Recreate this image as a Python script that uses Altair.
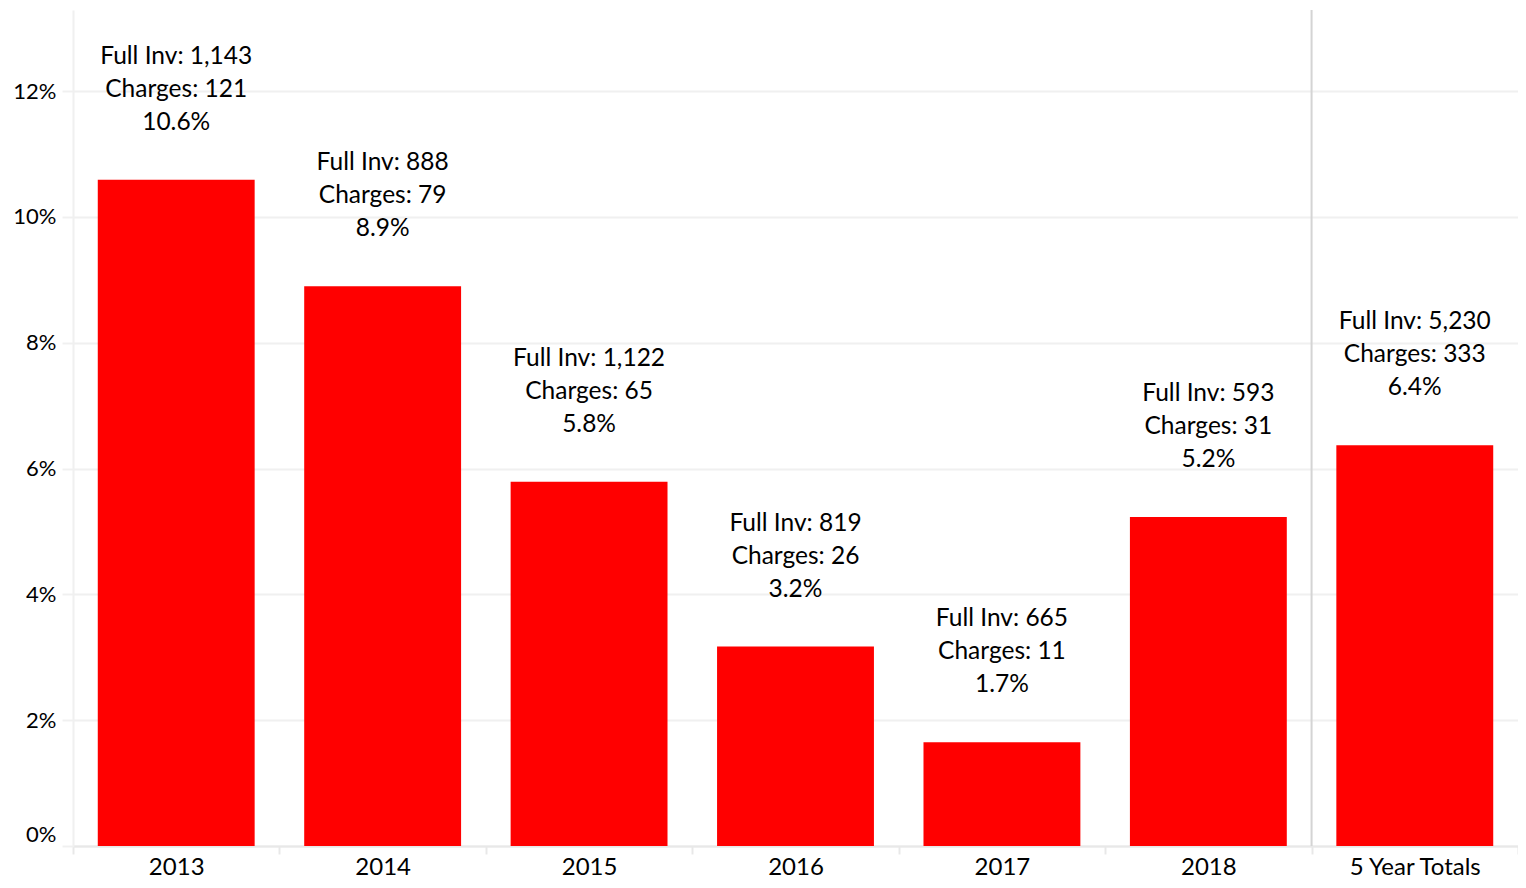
import altair as alt
import pandas as pd

categories = ["2013", "2014", "2015", "2016", "2017", "2018", "5 Year Totals"]
full_inv = [1143, 888, 1122, 819, 665, 593, 5230]
charges = [121, 79, 65, 26, 11, 31, 333]
rate_pct = [10.59, 8.90, 5.79, 3.17, 1.65, 5.23, 6.37]
rate_labels = ["10.6%", "8.9%", "5.8%", "3.2%", "1.7%", "5.2%", "6.4%"]
y_ticks = [0, 2, 4, 6, 8, 10, 12]

df = pd.DataFrame({
    "cat": categories,
    "rate": rate_pct,
    "label": [[f"Full Inv: {f:,}", f"Charges: {c}", r]
              for f, c, r in zip(full_inv, charges, rate_labels)],
})
sep = pd.DataFrame({"cat": ["5 Year Totals"]})

FONT = "Lato"

x_enc = alt.X(
    "cat:N", sort=categories, title=None,
    scale=alt.Scale(paddingInner=0, paddingOuter=0),
    axis=alt.Axis(labelAngle=0, tickBand="extent", domainColor="#e8e8e8",
                  tickColor="#e8e8e8", tickSize=8, tickWidth=2, domainWidth=2,
                  labelFontSize=24, labelPadding=1, labelColor="#000000",
                  labelFont=FONT, grid=False),
)
y_enc = alt.Y(
    "rate:Q", title=None,
    scale=alt.Scale(domain=[0, 13.29], nice=False),
    axis=alt.Axis(values=y_ticks, labelExpr="datum.value + '%'",
                  grid=True, gridColor="#f0f0f0", gridWidth=2,
                  domain=True, domainColor="#f0f0f0", domainWidth=2,
                  ticks=True, tickColor="#f0f0f0", tickSize=11, tickWidth=2,
                  labelPadding=6, labelFontSize=22, labelColor="#000000",
                  labelFont=FONT, labelFlush=True),
)

bars = alt.Chart(df).mark_bar(color="#ff0000", width=alt.RelativeBandSize(0.76)).encode(
    x=x_enc, y=y_enc
)
text = alt.Chart(df).mark_text(
    baseline="bottom", dy=-111, fontSize=24.5, font=FONT, lineHeight=33, color="#000000"
).encode(x=alt.X("cat:N", sort=categories), y="rate:Q", text="label")

rule = alt.Chart(sep).mark_rule(color="#d4d4d4", strokeWidth=2).encode(
    x=alt.X("cat:N", sort=categories, bandPosition=0)
)

chart = alt.layer(bars, rule, text).properties(
    width=1445, height=836,
    autosize=alt.AutoSizeParams(type="none"),
    padding={"left": 65, "top": 2, "right": 0, "bottom": 34},
).configure_view(stroke=None)

chart.save("out.html", embed_options={"renderer": "svg", "actions": False})
